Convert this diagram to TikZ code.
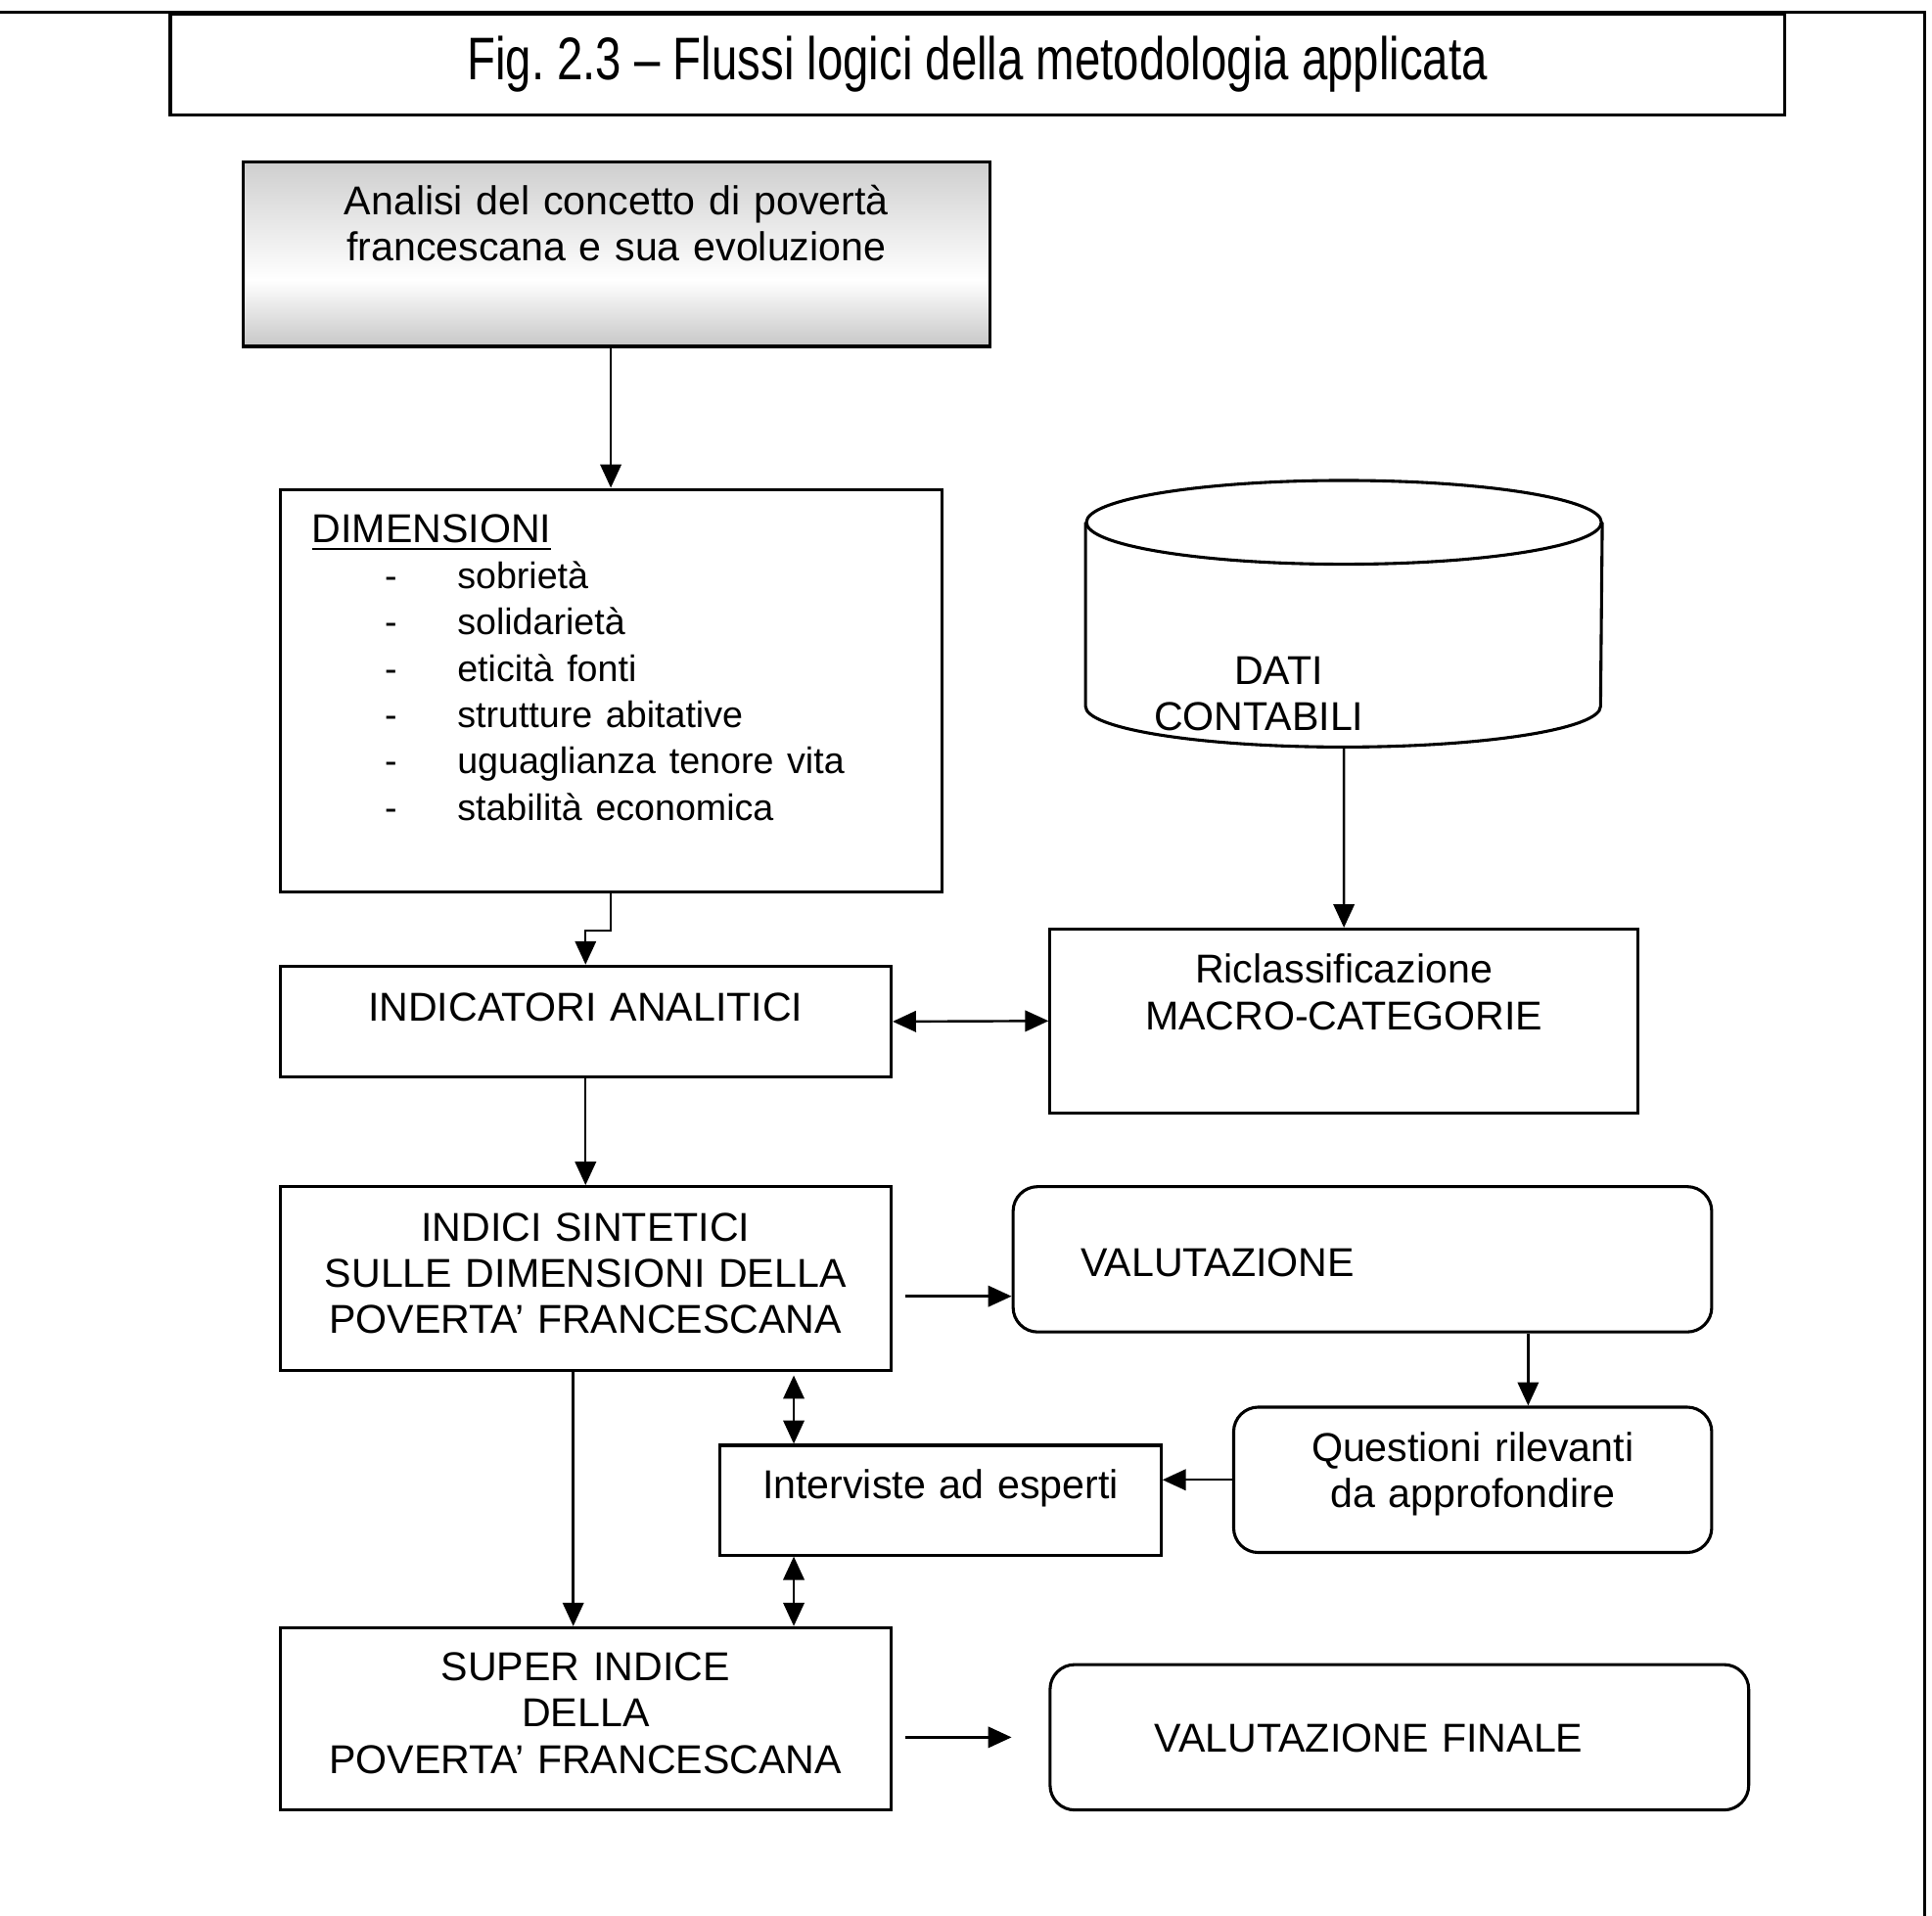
\documentclass[tikz,border=0pt]{standalone}
\usepackage{fontspec}
\setmainfont{Liberation Sans}
\newfontfamily\titolofont[FakeStretch=0.77]{Liberation Sans}
\usetikzlibrary{calc,positioning,arrows.meta}

\pgfdeclareverticalshading{grigio}{100bp}{color(0bp)=(black!22); color(25bp)=(black!22); color(43bp)=(white); color(75bp)=(black!19); color(100bp)=(black!19)}

\newcommand{\voce}[1]{{\fontsize{8.5}{10.7}\selectfont\hspace*{5.9mm}\makebox[5.9mm][l]{-}#1}}

\begin{document}
\begin{tikzpicture}[
	x=0.1mm, y=-0.1mm,
	font=\fontsize{9.3}{10.7}\selectfont,
	>={Triangle[length=1.9mm,width=1.7mm]},
	linie/.style={draw=black, line width=0.55pt},
	bordo/.style={draw=black, line width=0.7pt},
	blocco/.style={bordo, inner sep=0pt, anchor=north west, align=center},
	tondo/.style={blocco, rounded corners=2mm},
	testo/.style n args={3}{text width=#1, text height=#2, text depth=#3}
	]

\useasboundingbox (0,0) rectangle (1568,1555);
\draw[line width=0.8pt] (0,10) -- (1562,10) -- (1562,1555);

\node[blocco, minimum width=131mm, minimum height=8.2mm, font=\titolofont\fontsize{13.9}{16}\selectfont] (titolo) at (137,10) {Fig.\ 2.3 – Flussi logici della metodologia applicata};

\node[blocco, testo={60.6mm}{4.3mm}{10.7mm}, shade, shading=grigio] (analisi) at (196,130) {Analisi del concetto di povertà\\francescana e sua evoluzione};
\node[blocco, testo={48.5mm}{4.3mm}{28.4mm}, inner xsep=2.6mm, align=left] (dimensioni) at (226,396) {\underline{DIMENSIONI}\\\voce{sobrietà}\\\voce{solidarietà}\\\voce{eticità fonti}\\\voce{strutture abitative}\\\voce{uguaglianza tenore vita}\\\voce{stabilità economica}};

% cilindro dei dati
\node[inner sep=0pt, anchor=north west, align=left, testo={41.8mm}{16.5mm}{5mm}] (dati) at (881,390) {\hspace*{12mm}DATI\\\hspace*{5.5mm}CONTABILI};
\draw[bordo] ($(dati.north west)+(0,34)$) -- ($(dati.south west)+(0,-33)$) arc[start angle=180, end angle=0, x radius=209, y radius=33] -- ($(dati.north east)+(0,34)$);
\draw[bordo] ($(dati.north)+(0,34)$) ellipse[x radius=209, y radius=34];

\node[blocco, testo={47.7mm}{4.4mm}{10.5mm}] (riclass) at (851,753) {Riclassificazione\\MACRO-CATEGORIE};
\node[blocco, testo={49.6mm}{4.5mm}{4.5mm}] (indicatori) at (226,783) {INDICATORI ANALITICI};
\node[blocco, testo={49.6mm}{4.4mm}{10.5mm}] (sintetici) at (226,962) {INDICI SINTETICI\\SULLE DIMENSIONI DELLA\\POVERTA’ FRANCESCANA};
\node[tondo, testo={56.7mm}{7.3mm}{4.5mm}, align=left] (valutazione) at (821,962) {\hspace*{5.5mm}VALUTAZIONE};
\node[tondo, testo={38.8mm}{4.4mm}{7.4mm}] (questioni) at (1000,1141) {Questioni rilevanti\\da approfondire};
\node[blocco, testo={35.8mm}{4.3mm}{4.6mm}] (interviste) at (583,1172) {Interviste ad esperti};
\node[blocco, testo={49.6mm}{4.3mm}{10.5mm}] (superindice) at (226,1320) {SUPER INDICE\\DELLA\\POVERTA’ FRANCESCANA};
\node[tondo, testo={56.7mm}{7.1mm}{4.7mm}, align=left] (finale) at (851,1350) {\hspace*{8.5mm}VALUTAZIONE FINALE};

\draw[->, linie] (dimensioni.north |- analisi.south) -- (dimensioni.north);
\draw[->, linie] (dimensioni.south) -- ++(0,30) -| (indicatori.north);
\draw[->, linie] (dati.south) -- (riclass.north);
\draw[<->, linie] (indicatori.east) -- (riclass.west);
\draw[->, linie] (indicatori.south) -- (sintetici.north);

\coordinate (s1) at ([xshift=1mm,yshift=-1.45mm]sintetici.east);
\draw[->, linie] (s1) -- (s1 -| valutazione.west);
\coordinate (q1) at ([xshift=4.5mm]questioni.north);
\draw[->, linie] (q1 |- valutazione.south) -- (q1);
\draw[->, linie] (questioni.west) -- (questioni.west -| interviste.east);

\coordinate (e1) at ([xshift=-11.9mm]interviste.north);
\draw[<->, linie, shorten <=0.3mm] (e1 |- sintetici.south) -- (e1);
\draw[<->, linie] (e1 |- interviste.south) -- (e1 |- superindice.north);
\draw[->, linie] ([xshift=-1mm]sintetici.south) -- ([xshift=-1mm]superindice.north);

\coordinate (f1) at ([xshift=1mm,yshift=-1.5mm]superindice.east);
\draw[->, linie, shorten >=3mm] (f1) -- (f1 -| finale.west);

\end{tikzpicture}
\end{document}
